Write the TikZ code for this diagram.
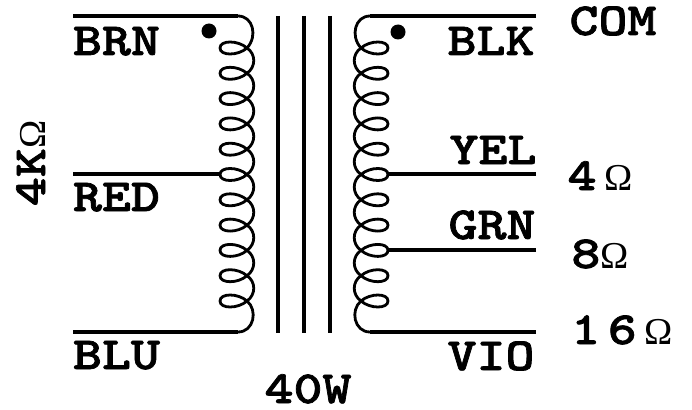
\documentclass[tikz,border=0pt]{standalone}
\usepackage{fontspec}
\newfontfamily\wirefont[Extension=.otf,FakeStretch=1.2,FakeBold=1.6]{lmmonolt10-bold}
\newfontfamily\ohmfont{Liberation Serif}
\newcommand{\ohm}{{\ohmfont\fontsize{38}{38}\selectfont Ω}}
\tikzset{wire/.style ={
		draw=black,
		line width=3.2pt,
	},
	core/.style ={
		draw=black,
		line width=3.6pt,
	},
	coil/.style ={
		draw=black,
		line width=2.8pt,
	},
	dotmark/.style ={
		circle,
		fill=black,
		inner sep=0pt,
		minimum size=15pt,
	},
	lbl/.style ={
		font=\wirefont\fontsize{46}{46}\selectfont,
		inner sep=0pt,
		anchor=base,
	},
	turn/.pic={
		\draw[coil] (27,0) .. controls (18,8) and (0,8) .. (0,0)
			.. controls (0,-8) and (18,-8) .. (27,0)
			.. controls (36,6) and (36,19) .. (27,25.3);
	}}
\begin{document}
\begin{tikzpicture}[x=1pt,y=-1pt]
	\useasboundingbox (0,0) rectangle (692,409);
	% primary winding
	\coordinate (pria) at (73,16);
	\coordinate (prib) at (73,174);
	\coordinate (pric) at (73,332);
	\coordinate (pritap) at (220,174);
	\coordinate (pritop) at (238,16);
	\coordinate (pribot) at (238,332);
	\draw[wire] (pria) -- (pritop);
	\draw[wire] (prib) -- (pritap);
	\draw[wire] (pric) -- (pribot);
	\draw[coil] (pritop) .. controls (253,16) and (258,36) .. (247,48);
	\foreach \n in {0,...,9}
		\pic at (220,{48+25.3*\n}) {turn};
	\draw[coil] (247,301) .. controls (238,293) and (220,293) .. (220,301)
		.. controls (220,309) and (238,309) .. (247,301)
		.. controls (258,310) and (254,332) .. (pribot);
	% core
	\foreach \x/\name in {278/a,304/b,330/c} {
		\coordinate (core\name top) at (\x,16);
		\coordinate (core\name bot) at (\x,333);
		\draw[core] (core\name top) -- (core\name bot);
	}
	% secondary winding
	\coordinate (seca) at (536,16);
	\coordinate (secb) at (536,174);
	\coordinate (secc) at (536,250);
	\coordinate (secd) at (536,332);
	\coordinate (sectapb) at (388,174);
	\coordinate (sectapc) at (388,250);
	\coordinate (sectop) at (370,16);
	\coordinate (secbot) at (370,332);
	\draw[wire] (seca) -- (sectop);
	\draw[wire] (secb) -- (sectapb);
	\draw[wire] (secc) -- (sectapc);
	\draw[wire] (secd) -- (secbot);
	\draw[coil] (sectop) .. controls (355,16) and (350,36) .. (361,48);
	\foreach \n in {0,...,9}
		\pic[xscale=-1] at (388,{48+25.3*\n}) {turn};
	\draw[coil] (361,301) .. controls (370,293) and (388,293) .. (388,301)
		.. controls (388,309) and (370,309) .. (361,301)
		.. controls (350,310) and (354,332) .. (secbot);
	% dots
	\node[dotmark] (pridot) at (209,31) {};
	\node[dotmark] (secdot) at (398,32) {};
	% labels
	\node[lbl] (brn) at (116.5,55) {BRN};
	\node[lbl] (red) at (116.5,211) {RED};
	\node[lbl] (blu) at (116.5,369) {BLU};
	\node[lbl] (blk) at (491,55) {BLK};
	\node[lbl] (yel) at (493,164) {YEL};
	\node[lbl] (grn) at (492,239) {GRN};
	\node[lbl] (vio) at (491,370) {VIO};
	\node[lbl] (com) at (613,35) {COM};
	\node[lbl] (four) at (600,190) {4\,\ohm};
	\node[lbl] (eight) at (600,268) {8\ohm};
	\node[lbl] (sixteen) at (622,344) {1\,6\,\ohm};
	\node[lbl] (watt) at (308,403) {40W};
	\node[lbl,rotate=90] (kohm) at (45,163) {4K\ohm};
\end{tikzpicture}
\end{document}
